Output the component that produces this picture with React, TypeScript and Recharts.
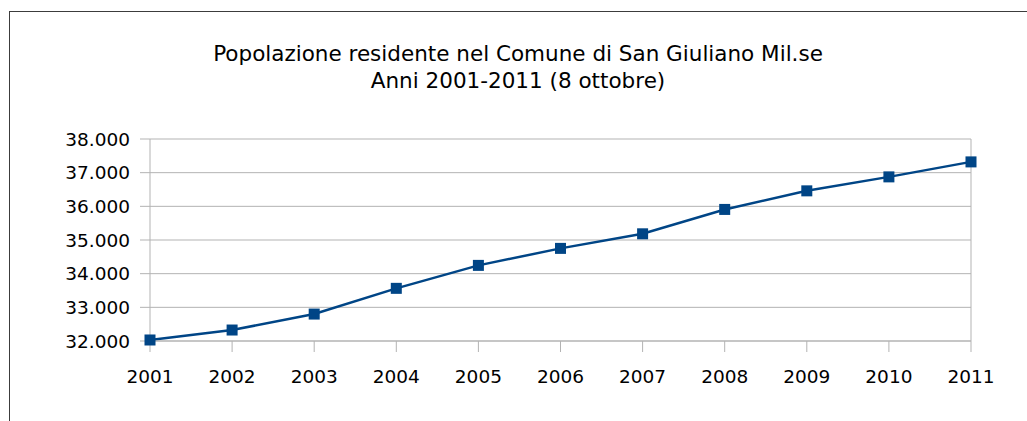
import { LineChart, Line, XAxis, YAxis, CartesianGrid, ReferenceLine } from "recharts";

// Popolazione residente, San Giuliano Milanese (8 ottobre di ogni anno)
const years = ["2001", "2002", "2003", "2004", "2005", "2006", "2007", "2008", "2009", "2010", "2011"];
const residents = [32030, 32326, 32800, 33564, 34246, 34751, 35184, 35908, 36460, 36875, 37320];
const yTicks = [32000, 33000, 34000, 35000, 36000, 37000, 38000];
const titleLines = ["Popolazione residente nel Comune di San Giuliano Mil.se", "Anni 2001-2011 (8 ottobre)"];

const data = years.map((y, i) => ({ year: y, pop: residents[i] }));

const BLUE = "#004586";
const GRID = "#b3b3b3";
const FONT = "'DejaVu Sans', Verdana, sans-serif";

// 32000 -> "32.000"
function fmt(v: number): string {
  return String(v).replace(/\B(?=(\d{3})+(?!\d))/g, ".");
}

function SquareDot(props: any) {
  const { cx, cy } = props;
  if (cx == null || cy == null) return null;
  return <rect x={cx - 5.5} y={cy - 5.5} width={11} height={11} fill={BLUE} />;
}

export default function App() {
  return (
    <div style={{ position: "absolute", left: 0, top: 0, width: 1027, height: 421, background: "#fff", overflow: "hidden" }}>
      {/* frame of the chart object, cut off on the right and bottom */}
      <div
        style={{
          position: "absolute",
          left: 9,
          top: 11,
          width: 1040,
          height: 430,
          borderLeft: "1px solid #3c3c3c",
          borderTop: "1px solid #3c3c3c",
        }}
      />
      <svg width={1027} height={110} style={{ position: "absolute", left: 0, top: 0 }}>
        {titleLines.map((t, i) => (
          <text key={i} x={518} y={61 + i * 27} textAnchor="middle" fontFamily={FONT} fontSize={21.5} fill="#000">
            {t}
          </text>
        ))}
      </svg>
      <div style={{ position: "absolute", left: 0, top: 0 }}>
        <LineChart width={1027} height={421} data={data} margin={{ top: 139, right: 56, bottom: 40, left: 0 }}>
          <CartesianGrid stroke={GRID} vertical={false} />
          <XAxis
            dataKey="year"
            height={40}
            tickSize={11}
            tickMargin={18}
            tickLine={{ stroke: GRID }}
            axisLine={{ stroke: GRID }}
            tick={{ fill: "#000", fontSize: 18.5, fontFamily: FONT }}
            interval={0}
          />
          <YAxis
            width={150}
            domain={[32000, 38000]}
            ticks={yTicks}
            tickFormatter={fmt}
            tickSize={10}
            tickMargin={10}
            tickLine={{ stroke: GRID }}
            axisLine={{ stroke: GRID }}
            tick={{ fill: "#000", fontSize: 18.5, fontFamily: FONT }}
          />
          <ReferenceLine x="2011" stroke={GRID} />
          <Line
            dataKey="pop"
            stroke={BLUE}
            strokeWidth={2.5}
            dot={<SquareDot />}
            activeDot={false}
            isAnimationActive={false}
          />
        </LineChart>
      </div>
    </div>
  );
}
